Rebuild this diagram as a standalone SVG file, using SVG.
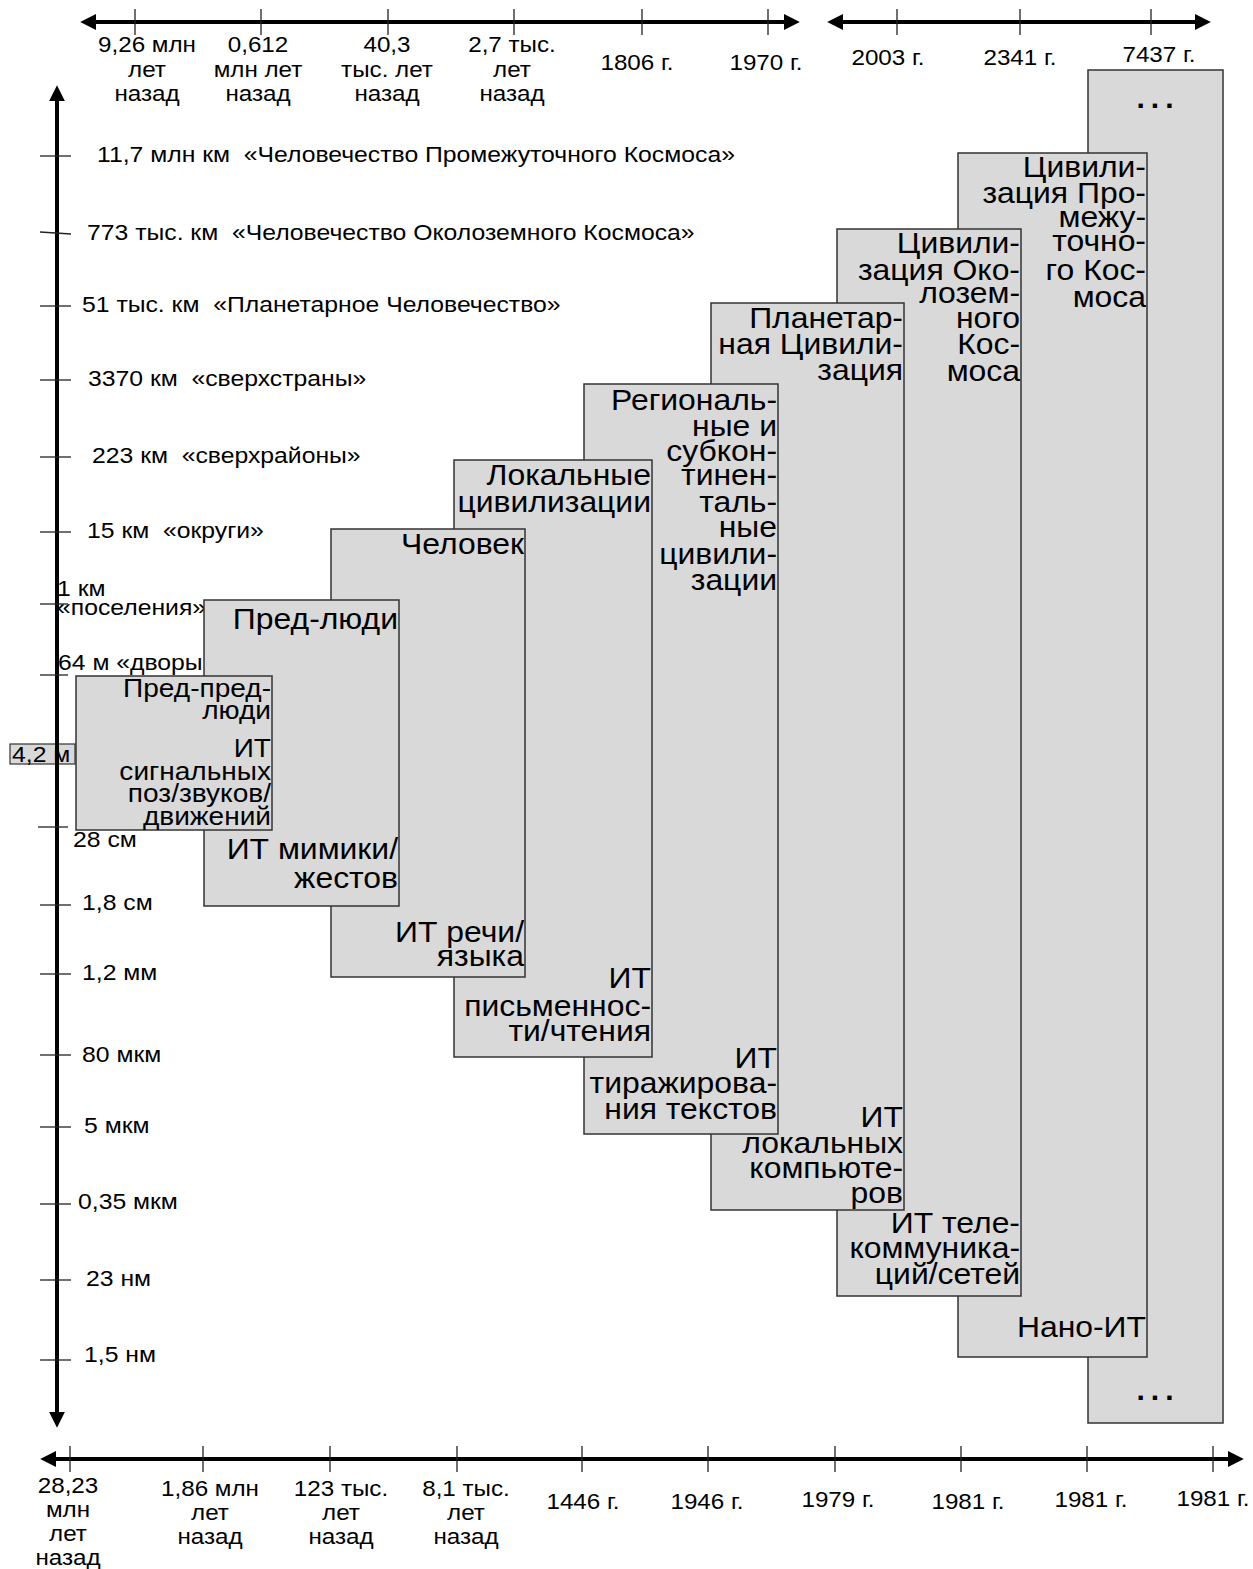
<svg xmlns="http://www.w3.org/2000/svg" width="1253" height="1569" viewBox="0 0 1253 1569">
<style>
text{font-family:"Liberation Sans",Arial,sans-serif;fill:#000}
.ax{font-size:22.5px}
.tl{font-size:22px;text-anchor:middle}
.bx{font-size:29px;text-anchor:end}
.b1{font-size:25.5px;text-anchor:end}
.dots{font-size:30px;text-anchor:middle;letter-spacing:6px;font-weight:bold}
.box{fill:#d9d9d9;stroke:#333;stroke-width:1.5}
.axis{stroke:#000;stroke-width:4;fill:none}
.tick{stroke:#222;stroke-width:1.3}
</style>
<defs>
<marker id="ah" viewBox="0 0 10 10" refX="2" refY="5" markerWidth="4" markerHeight="4" orient="auto-start-reverse" markerUnits="strokeWidth">
<path d="M0,0 L10,5 L0,10 z" fill="#000"/>
</marker>
</defs>

<g id="scale-labels">
<text class="ax" xml:space="preserve" transform="translate(97 0) scale(1.1 1)" x="0" y="162">11,7 млн км  «Человечество Промежуточного Космоса»</text>
<text class="ax" xml:space="preserve" transform="translate(87 0) scale(1.1 1)" x="0" y="240">773 тыс. км  «Человечество Околоземного Космоса»</text>
<text class="ax" xml:space="preserve" transform="translate(82 0) scale(1.1 1)" x="0" y="312">51 тыс. км  «Планетарное Человечество»</text>
<text class="ax" xml:space="preserve" transform="translate(88 0) scale(1.1 1)" x="0" y="386">3370 км  «сверхстраны»</text>
<text class="ax" xml:space="preserve" transform="translate(92 0) scale(1.1 1)" x="0" y="463">223 км  «сверхрайоны»</text>
<text class="ax" xml:space="preserve" transform="translate(87 0) scale(1.1 1)" x="0" y="538">15 км  «округи»</text>
<text class="ax" transform="translate(57 0) scale(1.1 1)"><tspan x="0" y="596">1 км</tspan><tspan x="0" y="615">«поселения»</tspan></text>
<text class="ax" transform="translate(58 0) scale(1.1 1)" x="0" y="670">64 м «дворы»</text>
<rect x="10" y="744" width="65" height="20" fill="#d9d9d9" stroke="#333" stroke-width="1.2"/>
<text class="ax" transform="translate(12 0) scale(1.1 1)" x="0" y="762">4,2 м</text>
<text class="ax" transform="translate(73 0) scale(1.1 1)" x="0" y="847">28 см</text>
<text class="ax" transform="translate(82 0) scale(1.1 1)" x="0" y="910">1,8 см</text>
<text class="ax" transform="translate(82 0) scale(1.1 1)" x="0" y="980">1,2 мм</text>
<text class="ax" transform="translate(82 0) scale(1.1 1)" x="0" y="1062">80 мкм</text>
<text class="ax" transform="translate(84 0) scale(1.1 1)" x="0" y="1133">5 мкм</text>
<text class="ax" transform="translate(78 0) scale(1.1 1)" x="0" y="1209">0,35 мкм</text>
<text class="ax" transform="translate(86 0) scale(1.1 1)" x="0" y="1286">23 нм</text>
<text class="ax" transform="translate(84 0) scale(1.1 1)" x="0" y="1362">1,5 нм</text>
</g>

<g id="time-labels">
<text class="tl" transform="translate(147 0) scale(1.1 1)"><tspan x="0" y="52">9,26 млн</tspan><tspan x="0" y="77">лет</tspan><tspan x="0" y="101">назад</tspan></text>
<text class="tl" transform="translate(258 0) scale(1.1 1)"><tspan x="0" y="52">0,612</tspan><tspan x="0" y="77">млн лет</tspan><tspan x="0" y="101">назад</tspan></text>
<text class="tl" transform="translate(387 0) scale(1.1 1)"><tspan x="0" y="52">40,3</tspan><tspan x="0" y="77">тыс. лет</tspan><tspan x="0" y="101">назад</tspan></text>
<text class="tl" transform="translate(512 0) scale(1.1 1)"><tspan x="0" y="52">2,7 тыс.</tspan><tspan x="0" y="77">лет</tspan><tspan x="0" y="101">назад</tspan></text>
<text class="tl" transform="translate(637 0) scale(1.1 1)" x="0" y="70">1806 г.</text>
<text class="tl" transform="translate(766 0) scale(1.1 1)" x="0" y="70">1970 г.</text>
<text class="tl" transform="translate(888 0) scale(1.1 1)" x="0" y="65">2003 г.</text>
<text class="tl" transform="translate(1020 0) scale(1.1 1)" x="0" y="65">2341 г.</text>
<text class="tl" transform="translate(1159 0) scale(1.1 1)" x="0" y="62">7437 г.</text>

<text class="tl" transform="translate(68 0) scale(1.1 1)"><tspan x="0" y="1493">28,23</tspan><tspan x="0" y="1517">млн</tspan><tspan x="0" y="1541">лет</tspan><tspan x="0" y="1565">назад</tspan></text>
<text class="tl" transform="translate(210 0) scale(1.1 1)"><tspan x="0" y="1496">1,86 млн</tspan><tspan x="0" y="1520">лет</tspan><tspan x="0" y="1544">назад</tspan></text>
<text class="tl" transform="translate(341 0) scale(1.1 1)"><tspan x="0" y="1496">123 тыс.</tspan><tspan x="0" y="1520">лет</tspan><tspan x="0" y="1544">назад</tspan></text>
<text class="tl" transform="translate(466 0) scale(1.1 1)"><tspan x="0" y="1496">8,1 тыс.</tspan><tspan x="0" y="1520">лет</tspan><tspan x="0" y="1544">назад</tspan></text>
<text class="tl" transform="translate(583 0) scale(1.1 1)" x="0" y="1509">1446 г.</text>
<text class="tl" transform="translate(707 0) scale(1.1 1)" x="0" y="1509">1946 г.</text>
<text class="tl" transform="translate(838 0) scale(1.1 1)" x="0" y="1507">1979 г.</text>
<text class="tl" transform="translate(968 0) scale(1.1 1)" x="0" y="1509">1981 г.</text>
<text class="tl" transform="translate(1091 0) scale(1.1 1)" x="0" y="1507">1981 г.</text>
<text class="tl" transform="translate(1213 0) scale(1.1 1)" x="0" y="1506">1981 г.</text>
</g>

<g id="node9">
<rect class="box" x="1088" y="70" width="135" height="1353"/>
<text class="dots" x="1158" y="108">...</text>
<text class="dots" x="1158" y="1400">...</text>
</g>
<g id="node8">
<rect class="box" x="958" y="153" width="189" height="1204"/>
<text class="bx" transform="translate(1146 0) scale(1.1 1)"><tspan x="0" y="177">Цивили-</tspan><tspan x="0" y="203">зация Про-</tspan><tspan x="0" y="227">межу-</tspan><tspan x="0" y="251">точно-</tspan><tspan x="0" y="280">го Кос-</tspan><tspan x="0" y="307">моса</tspan><tspan x="0" y="1337">Нано-ИТ</tspan></text>
</g>
<g id="node7">
<rect class="box" x="837" y="229" width="184" height="1067"/>
<text class="bx" transform="translate(1020 0) scale(1.1 1)"><tspan x="0" y="253">Цивили-</tspan><tspan x="0" y="280">зация Око-</tspan><tspan x="0" y="303">лозем-</tspan><tspan x="0" y="328">ного</tspan><tspan x="0" y="354">Кос-</tspan><tspan x="0" y="381">моса</tspan><tspan x="0" y="1233">ИТ теле-</tspan><tspan x="0" y="1258">коммуника-</tspan><tspan x="0" y="1284">ций/сетей</tspan></text>
</g>
<g id="node6">
<rect class="box" x="711" y="303" width="193" height="907"/>
<text class="bx" transform="translate(903 0) scale(1.1 1)"><tspan x="0" y="328">Планетар-</tspan><tspan x="0" y="354">ная Цивили-</tspan><tspan x="0" y="380">зация</tspan><tspan x="0" y="1127">ИТ</tspan><tspan x="0" y="1153">локальных</tspan><tspan x="0" y="1178">компьюте-</tspan><tspan x="0" y="1203">ров</tspan></text>
</g>
<g id="node5">
<rect class="box" x="584" y="384" width="194" height="750"/>
<text class="bx" transform="translate(777 0) scale(1.1 1)"><tspan x="0" y="410">Региональ-</tspan><tspan x="0" y="436">ные и</tspan><tspan x="0" y="461">субкон-</tspan><tspan x="0" y="485">тинен-</tspan><tspan x="0" y="512">таль-</tspan><tspan x="0" y="537">ные</tspan><tspan x="0" y="564">цивили-</tspan><tspan x="0" y="590">зации</tspan><tspan x="0" y="1068">ИТ</tspan><tspan x="0" y="1093">тиражирова-</tspan><tspan x="0" y="1119">ния текстов</tspan></text>
</g>
<g id="node4">
<rect class="box" x="454" y="460" width="198" height="597"/>
<text class="bx" transform="translate(651 0) scale(1.1 1)"><tspan x="0" y="485">Локальные</tspan><tspan x="0" y="512">цивилизации</tspan><tspan x="0" y="988">ИТ</tspan><tspan x="0" y="1016">письменнос-</tspan><tspan x="0" y="1041">ти/чтения</tspan></text>
</g>
<g id="node3">
<rect class="box" x="331" y="529" width="194" height="448"/>
<text class="bx" transform="translate(524 0) scale(1.1 1)"><tspan x="0" y="554">Человек</tspan><tspan x="0" y="942">ИТ речи/</tspan><tspan x="0" y="966">языка</tspan></text>
</g>
<g id="node2">
<rect class="box" x="204" y="600" width="195" height="306"/>
<text class="bx" transform="translate(398 0) scale(1.1 1)"><tspan x="0" y="629">Пред-люди</tspan><tspan x="0" y="859">ИТ мимики/</tspan><tspan x="0" y="888">жестов</tspan></text>
</g>
<g id="node1">
<rect class="box" x="76" y="676" width="196" height="154"/>
<text class="b1" transform="translate(271 0) scale(1.1 1)"><tspan x="0" y="697">Пред-пред-</tspan><tspan x="0" y="719">люди</tspan><tspan x="0" y="757">ИТ</tspan><tspan x="0" y="780">сигнальных</tspan><tspan x="0" y="802">поз/звуков/</tspan><tspan x="0" y="825">движений</tspan></text>
</g>

<g id="connectors">
<line class="axis" x1="93" y1="22" x2="787" y2="22" marker-start="url(#ah)" marker-end="url(#ah)"/>
<line class="axis" x1="840" y1="22" x2="1198" y2="22" marker-start="url(#ah)" marker-end="url(#ah)"/>
<line class="axis" x1="57" y1="98" x2="57" y2="1415" marker-start="url(#ah)" marker-end="url(#ah)"/>
<line class="axis" x1="53" y1="1459" x2="1231" y2="1459" marker-start="url(#ah)" marker-end="url(#ah)"/>
<g class="tick">
<line x1="135" y1="9" x2="135" y2="35"/><line x1="261" y1="9" x2="261" y2="35"/><line x1="388" y1="9" x2="388" y2="35"/><line x1="514" y1="9" x2="514" y2="35"/><line x1="642" y1="9" x2="642" y2="35"/><line x1="768" y1="9" x2="768" y2="35"/>
<line x1="897" y1="9" x2="897" y2="35"/><line x1="1020" y1="9" x2="1020" y2="35"/><line x1="1151" y1="9" x2="1151" y2="35"/>
<line x1="40" y1="156" x2="71" y2="156"/><line x1="40" y1="232" x2="71" y2="234"/><line x1="40" y1="306" x2="71" y2="306"/><line x1="40" y1="380" x2="71" y2="380"/><line x1="40" y1="457" x2="71" y2="457"/><line x1="40" y1="532" x2="71" y2="532"/><line x1="40" y1="604" x2="68" y2="604"/><line x1="40" y1="675" x2="68" y2="675"/><line x1="38" y1="827" x2="68" y2="827"/><line x1="40" y1="905" x2="71" y2="905"/><line x1="40" y1="974" x2="71" y2="974"/><line x1="40" y1="1055" x2="71" y2="1055"/><line x1="40" y1="1127" x2="71" y2="1127"/><line x1="40" y1="1204" x2="71" y2="1204"/><line x1="40" y1="1280" x2="71" y2="1280"/><line x1="40" y1="1360" x2="71" y2="1360"/>
<line x1="70" y1="1446" x2="70" y2="1472"/><line x1="203" y1="1446" x2="203" y2="1472"/><line x1="330" y1="1446" x2="330" y2="1472"/><line x1="457" y1="1446" x2="457" y2="1472"/><line x1="582" y1="1446" x2="582" y2="1472"/><line x1="708" y1="1446" x2="708" y2="1472"/><line x1="835" y1="1446" x2="835" y2="1472"/><line x1="961" y1="1446" x2="961" y2="1472"/><line x1="1087" y1="1446" x2="1087" y2="1472"/><line x1="1213" y1="1446" x2="1213" y2="1472"/>
</g>
</g>
</svg>
